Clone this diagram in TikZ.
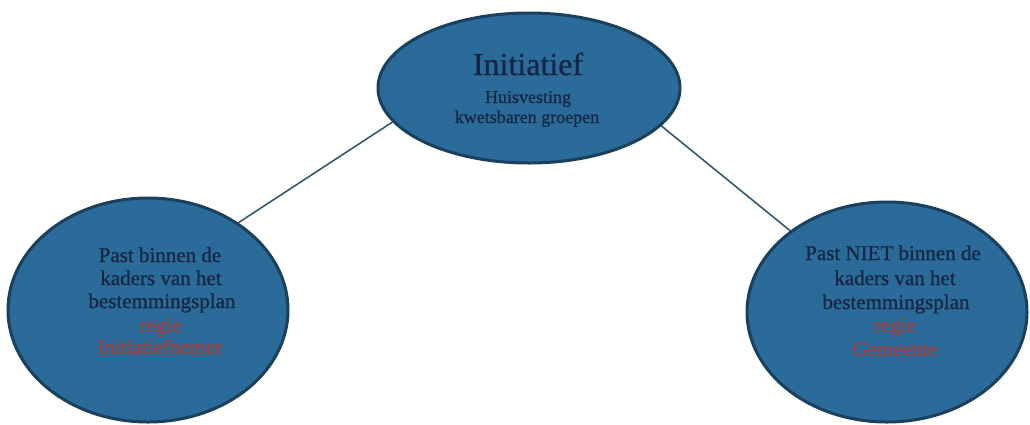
\documentclass[tikz,border=0pt]{standalone}
\usepackage{fontspec}
\setmainfont{Liberation Serif}
\newfontfamily\scanfont{Liberation Serif}[FakeBold=0.7]
\usetikzlibrary{shapes.geometric}
\definecolor{fillblue}{HTML}{2A6B99}
\definecolor{edgeblue}{HTML}{1A405E}
\definecolor{txtnavy}{HTML}{152642}
\definecolor{txtred}{HTML}{A63F3A}
\definecolor{linecol}{HTML}{35596F}
\begin{document}
\begin{tikzpicture}[x=1pt,y=-1pt,
  bubble/.style={ellipse, draw=edgeblue, line width=3pt, fill=fillblue, inner sep=0pt},
  link/.style={draw=linecol, line width=1.6pt},
  bigtxt/.style={text=txtnavy, font=\scanfont\fontsize{32}{34}\selectfont, anchor=base, inner sep=0pt},
  midtxt/.style={text=txtnavy, font=\scanfont\fontsize{18}{20}\selectfont, anchor=base, inner sep=0pt},
  bodytxt/.style={text=txtnavy, font=\scanfont\fontsize{21}{23}\selectfont, anchor=base, inner sep=0pt},
  redtxt/.style={text=txtred, font=\scanfont\fontsize{21}{23}\selectfont, anchor=base, inner sep=0pt}
]
\useasboundingbox[fill=white] (0,0) rectangle (1030,424);

% ellipses
\node[bubble, minimum width=302pt, minimum height=150pt] (T) at (529,88) {};
\node[bubble, minimum width=280pt, minimum height=224pt] (L) at (148,310) {};
\node[bubble, minimum width=280pt, minimum height=220pt] (R) at (887,312) {};

% connectors
\draw[link] (T.194) -- (L.44);
\draw[link] (T.344) -- (R.140);

% top text
\node[bigtxt] (t1) at (528,75) {Initiatief};
\node[midtxt] (t2) at (528,103) {Huisvesting};
\node[midtxt] (t3) at (527,123) {kwetsbaren groepen};

% left text
\node[bodytxt] (l1) at (160,262) {Past binnen de};
\node[bodytxt] (l2) at (161,285) {kaders van het};
\node[bodytxt] (l3) at (162,308) {bestemmingsplan};
\node[redtxt]  (l4) at (161,332) {regie};
\node[redtxt]  (l5) at (160,354) {Initiatiefnemer};

% right text
\node[bodytxt] (r1) at (893,260) {Past NIET binnen de};
\node[bodytxt] (r2) at (895,285) {kaders van het};
\node[bodytxt] (r3) at (896,309) {bestemmingsplan};
\node[redtxt]  (r4) at (895,332) {regie};
\node[redtxt]  (r5) at (895,356) {Gemeente};
\end{tikzpicture}
\end{document}
